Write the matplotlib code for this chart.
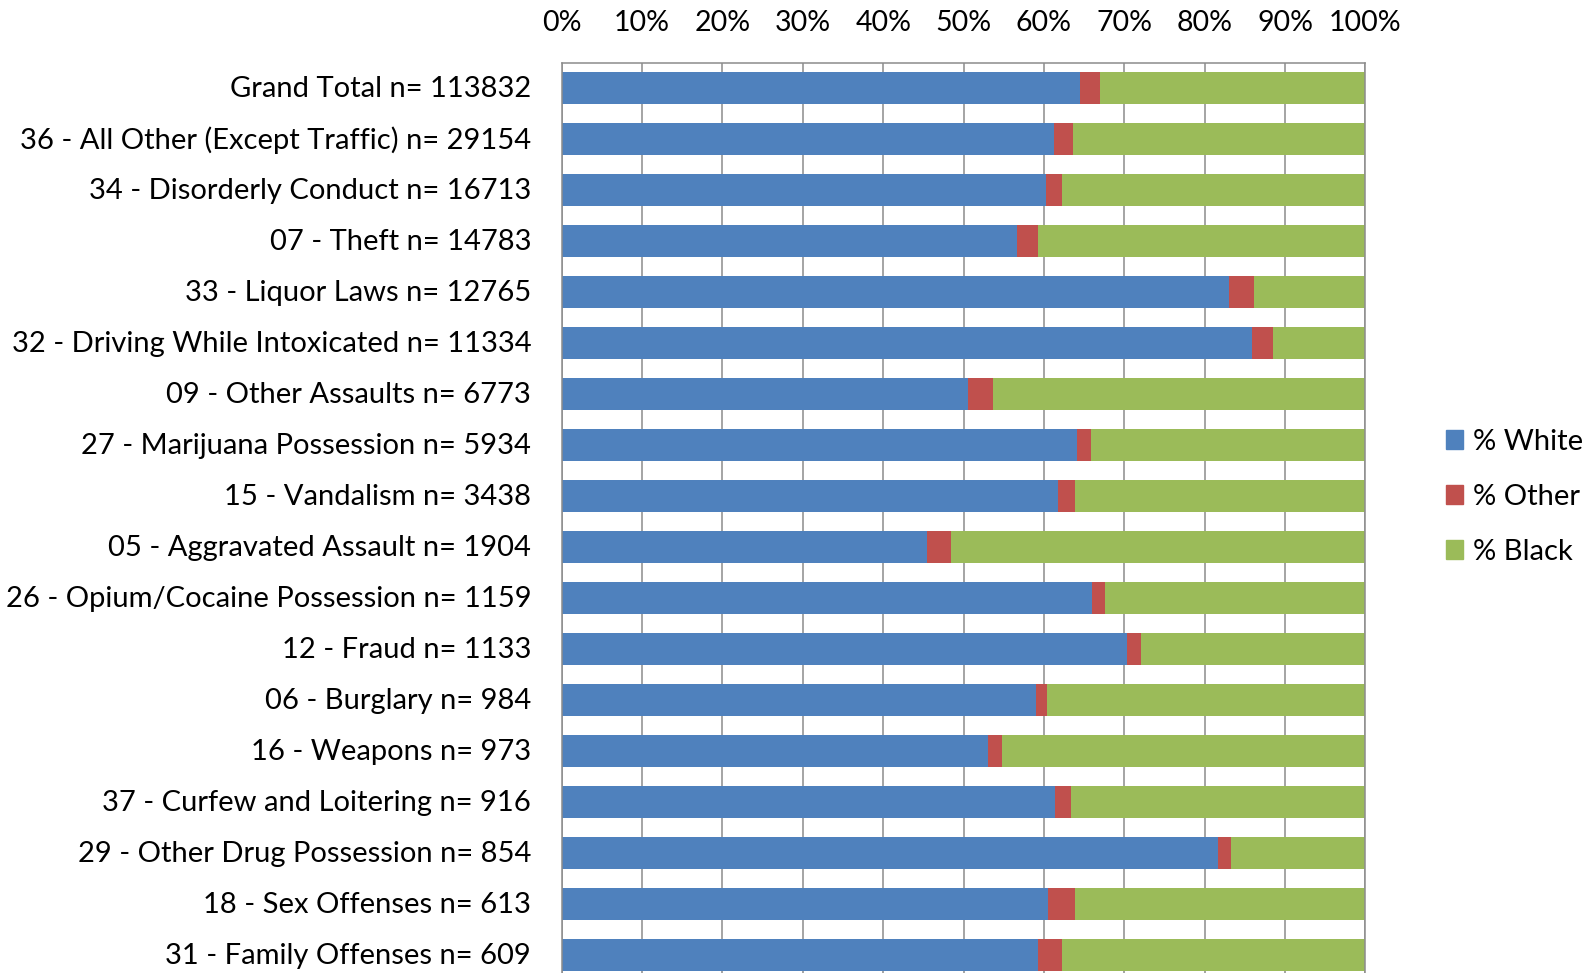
import matplotlib
matplotlib.use("Agg")
import matplotlib.pyplot as plt
import matplotlib.ticker as mticker
from matplotlib.patches import Patch
import numpy as np

plt.rcParams["font.family"] = ["Lato", "DejaVu Sans"]

WHITE_C = "#4F81BD"
OTHER_C = "#C0504D"
BLACK_C = "#9BBB59"
GRID_C = "#8C8C8C"

# ── data (percent of arrests) ────────────────────────────────────────────────
offenses = ["Grand Total", "36 - All Other (Except Traffic)", "34 - Disorderly Conduct",
            "07 - Theft", "33 - Liquor Laws", "32 - Driving While Intoxicated",
            "09 - Other Assaults", "27 - Marijuana Possession", "15 - Vandalism",
            "05 - Aggravated Assault", "26 - Opium/Cocaine Possession", "12 - Fraud",
            "06 - Burglary", "16 - Weapons", "37 - Curfew and Loitering",
            "29 - Other Drug Possession", "18 - Sex Offenses", "31 - Family Offenses"]
counts = [113832, 29154, 16713, 14783, 12765, 11334, 6773, 5934, 3438,
          1904, 1159, 1133, 984, 973, 916, 854, 613, 609]
pct_white = [64.5, 61.2, 60.2, 56.7, 83.0, 85.9, 50.6, 64.1, 61.7,
             45.4, 66.0, 70.3, 59.0, 53.0, 61.4, 81.7, 60.5, 59.2]
pct_other = [2.5, 2.4, 2.0, 2.5, 3.1, 2.6, 3.1, 1.8, 2.2,
             3.0, 1.6, 1.8, 1.4, 1.8, 2.0, 1.6, 3.4, 3.0]
pct_black = [33.0, 36.4, 37.8, 40.8, 13.9, 11.5, 46.3, 34.1, 36.1,
             51.6, 32.4, 27.9, 39.6, 45.2, 36.6, 16.7, 36.1, 37.8]

labels = [f"{o} n= {n}" for o, n in zip(offenses, counts)]
y = np.arange(len(labels))
white = np.array(pct_white) / 100
other = np.array(pct_other) / 100
black = np.array(pct_black) / 100

# ── figure ───────────────────────────────────────────────────────────────────
W, H = 1594, 973
fig = plt.figure(figsize=(W / 100, H / 100), dpi=100)
left, right, top = 561.7, 1365.5, 62.7
row_h = 51.0
bottom = top + row_h * len(labels)
ax = fig.add_axes([left / W, 1 - bottom / H, (right - left) / W, (bottom - top) / H])

bh = 0.63
ax.barh(y, white, height=bh, color=WHITE_C, zorder=2)
ax.barh(y, other, left=white, height=bh, color=OTHER_C, zorder=2)
ax.barh(y, black, left=white + other, height=bh, color=BLACK_C, zorder=2)

ax.set_xlim(0, 1)
ax.set_ylim(len(labels) - 0.5, -0.5)
ax.xaxis.set_major_locator(mticker.MultipleLocator(0.1))
ax.xaxis.set_major_formatter(mticker.PercentFormatter(1.0, decimals=0))
ax.xaxis.tick_top()
ax.tick_params(axis="x", length=0, pad=19, labelsize=20.5)
ax.set_yticks(y)
ax.set_yticklabels(labels)
ax.tick_params(axis="y", length=0, pad=22, labelsize=21)
for t in ax.get_yticklabels():
    t.set_y(t.get_position()[1])
    t.set_transform(t.get_transform() + matplotlib.transforms.ScaledTranslation(0, 2 / 100, fig.dpi_scale_trans))
ax.grid(axis="x", color=GRID_C, linewidth=1.1)
ax.set_axisbelow(True)
for s in ax.spines.values():
    s.set_color(GRID_C)
    s.set_linewidth(1.1)

handles = [Patch(color=WHITE_C), Patch(color=OTHER_C), Patch(color=BLACK_C)]
fig.legend(handles, ["% White", "% Other", "% Black"], loc="center left",
           bbox_to_anchor=(1445.7 / W, 1 - 496.7 / H), frameon=False,
           fontsize=21, handlelength=0.61, handleheight=0.61,
           handletextpad=0.33, labelspacing=1.0, borderpad=0, borderaxespad=0)

fig.savefig("out.png", dpi=100)
